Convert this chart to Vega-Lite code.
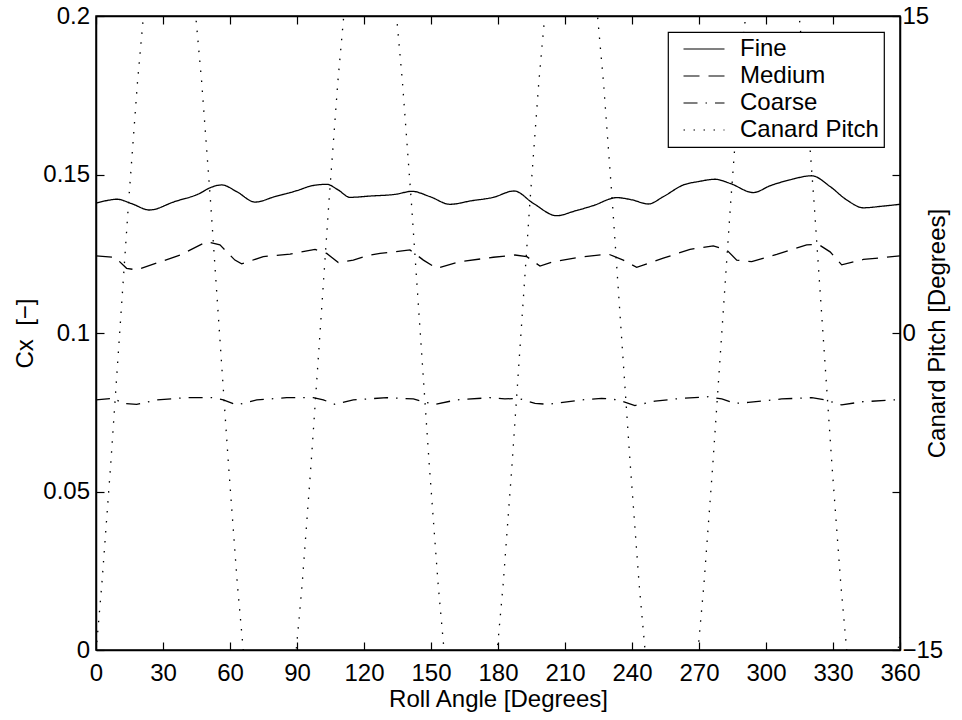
{
  "$schema": "https://vega.github.io/schema/vega-lite/v6.json",
  "width": 804,
  "height": 634,
  "autosize": {"type": "none"},
  "padding": {"left": 96, "top": 16, "right": 62, "bottom": 70},
  "background": "white",
  "config": {
    "font": "Liberation Sans",
    "view": {"stroke": "black", "strokeWidth": 1.5},
    "axis": {
      "grid": false,
      "domainColor": "black",
      "domainWidth": 1.5,
      "tickColor": "black",
      "tickWidth": 1.2,
      "tickSize": -8,
      "labelColor": "black",
      "labelFont": "Liberation Sans",
      "labelFontSize": 24,
      "titleFont": "Liberation Sans",
      "titleFontSize": 24,
      "titleFontWeight": "normal",
      "titleColor": "black"
    },
    "legend": {
      "orient": "top-right",
      "offset": 16,
      "padding": 5,
      "fillColor": "white",
      "strokeColor": "black",
      "strokeWidth": 1.2,
      "symbolType": "M-2,0H2",
      "symbolSize": 420,
      "symbolStrokeWidth": 1.2,
      "symbolStrokeColor": "black",
      "symbolFillColor": "transparent",
      "labelFont": "Liberation Sans",
      "labelFontSize": 24,
      "labelColor": "black",
      "labelOffset": 24,
      "labelLimit": 400,
      "rowPadding": 3,
      "symbolOffset": 19
    }
  },
  "data": {
    "values": [
      {"series": "Fine", "angle": 0, "value": 0.1410},
      {"series": "Fine", "angle": 5, "value": 0.1418},
      {"series": "Fine", "angle": 9.3, "value": 0.1422},
      {"series": "Fine", "angle": 16, "value": 0.1408},
      {"series": "Fine", "angle": 23.9, "value": 0.1388},
      {"series": "Fine", "angle": 35, "value": 0.1414},
      {"series": "Fine", "angle": 46.6, "value": 0.1441},
      {"series": "Fine", "angle": 51, "value": 0.1458},
      {"series": "Fine", "angle": 56.3, "value": 0.1467},
      {"series": "Fine", "angle": 63, "value": 0.1446},
      {"series": "Fine", "angle": 71.2, "value": 0.1413},
      {"series": "Fine", "angle": 80, "value": 0.1430},
      {"series": "Fine", "angle": 89.9, "value": 0.1449},
      {"series": "Fine", "angle": 97, "value": 0.1465},
      {"series": "Fine", "angle": 103.3, "value": 0.1469},
      {"series": "Fine", "angle": 108.5, "value": 0.1451},
      {"series": "Fine", "angle": 113.7, "value": 0.1428},
      {"series": "Fine", "angle": 122.7, "value": 0.1432},
      {"series": "Fine", "angle": 134.6, "value": 0.1438},
      {"series": "Fine", "angle": 141.4, "value": 0.1447},
      {"series": "Fine", "angle": 149.6, "value": 0.1430},
      {"series": "Fine", "angle": 158.5, "value": 0.1406},
      {"series": "Fine", "angle": 168, "value": 0.1417},
      {"series": "Fine", "angle": 177.9, "value": 0.1428},
      {"series": "Fine", "angle": 187.2, "value": 0.1448},
      {"series": "Fine", "angle": 195.8, "value": 0.1409},
      {"series": "Fine", "angle": 206.3, "value": 0.1370},
      {"series": "Fine", "angle": 214, "value": 0.1384},
      {"series": "Fine", "angle": 222.7, "value": 0.1402},
      {"series": "Fine", "angle": 233.2, "value": 0.1427},
      {"series": "Fine", "angle": 240, "value": 0.1420},
      {"series": "Fine", "angle": 247.3, "value": 0.1407},
      {"series": "Fine", "angle": 254, "value": 0.1430},
      {"series": "Fine", "angle": 263, "value": 0.1467},
      {"series": "Fine", "angle": 270, "value": 0.1478},
      {"series": "Fine", "angle": 277.2, "value": 0.1485},
      {"series": "Fine", "angle": 283.9, "value": 0.1472},
      {"series": "Fine", "angle": 294.3, "value": 0.1443},
      {"series": "Fine", "angle": 302, "value": 0.1465},
      {"series": "Fine", "angle": 310.7, "value": 0.1483},
      {"series": "Fine", "angle": 320.5, "value": 0.1496},
      {"series": "Fine", "angle": 328.7, "value": 0.1462},
      {"series": "Fine", "angle": 336.1, "value": 0.1420},
      {"series": "Fine", "angle": 343.6, "value": 0.1395},
      {"series": "Fine", "angle": 352, "value": 0.1400},
      {"series": "Fine", "angle": 360, "value": 0.1406},

      {"series": "Medium", "angle": 0, "value": 0.1243},
      {"series": "Medium", "angle": 8.5, "value": 0.1239},
      {"series": "Medium", "angle": 13.7, "value": 0.1204},
      {"series": "Medium", "angle": 18.2, "value": 0.1199},
      {"series": "Medium", "angle": 25.7, "value": 0.1217},
      {"series": "Medium", "angle": 37.6, "value": 0.1246},
      {"series": "Medium", "angle": 49.6, "value": 0.1288},
      {"series": "Medium", "angle": 55.5, "value": 0.1278},
      {"series": "Medium", "angle": 62.2, "value": 0.1230},
      {"series": "Medium", "angle": 65.2, "value": 0.1218},
      {"series": "Medium", "angle": 74.9, "value": 0.1241},
      {"series": "Medium", "angle": 86.9, "value": 0.1249},
      {"series": "Medium", "angle": 98.1, "value": 0.1264},
      {"series": "Medium", "angle": 103.3, "value": 0.1251},
      {"series": "Medium", "angle": 108.5, "value": 0.1222},
      {"series": "Medium", "angle": 115.2, "value": 0.1230},
      {"series": "Medium", "angle": 122.7, "value": 0.1246},
      {"series": "Medium", "angle": 127.2, "value": 0.1251},
      {"series": "Medium", "angle": 140.6, "value": 0.1262},
      {"series": "Medium", "angle": 146.6, "value": 0.1230},
      {"series": "Medium", "angle": 152.5, "value": 0.1204},
      {"series": "Medium", "angle": 163, "value": 0.1225},
      {"series": "Medium", "angle": 177.9, "value": 0.1239},
      {"series": "Medium", "angle": 187.6, "value": 0.1246},
      {"series": "Medium", "angle": 192.9, "value": 0.1241},
      {"series": "Medium", "angle": 198.8, "value": 0.1211},
      {"series": "Medium", "angle": 204.8, "value": 0.1225},
      {"series": "Medium", "angle": 216.7, "value": 0.1239},
      {"series": "Medium", "angle": 229.4, "value": 0.1249},
      {"series": "Medium", "angle": 236.1, "value": 0.1230},
      {"series": "Medium", "angle": 242.1, "value": 0.1207},
      {"series": "Medium", "angle": 254, "value": 0.1236},
      {"series": "Medium", "angle": 266, "value": 0.1264},
      {"series": "Medium", "angle": 276.4, "value": 0.1275},
      {"series": "Medium", "angle": 282.4, "value": 0.1262},
      {"series": "Medium", "angle": 286.9, "value": 0.1230},
      {"series": "Medium", "angle": 293.6, "value": 0.1225},
      {"series": "Medium", "angle": 304.8, "value": 0.1248},
      {"series": "Medium", "angle": 318.2, "value": 0.1278},
      {"series": "Medium", "angle": 323.4, "value": 0.1280},
      {"series": "Medium", "angle": 328.7, "value": 0.1256},
      {"series": "Medium", "angle": 333.9, "value": 0.1215},
      {"series": "Medium", "angle": 343.6, "value": 0.1232},
      {"series": "Medium", "angle": 360, "value": 0.1243},

      {"series": "Coarse", "angle": 0, "value": 0.0789},
      {"series": "Coarse", "angle": 7.7, "value": 0.0794},
      {"series": "Coarse", "angle": 12.2, "value": 0.0778},
      {"series": "Coarse", "angle": 18.2, "value": 0.0775},
      {"series": "Coarse", "angle": 27.2, "value": 0.0789},
      {"series": "Coarse", "angle": 40.6, "value": 0.0796},
      {"series": "Coarse", "angle": 52.5, "value": 0.0796},
      {"series": "Coarse", "angle": 57, "value": 0.0789},
      {"series": "Coarse", "angle": 63, "value": 0.0773},
      {"series": "Coarse", "angle": 72, "value": 0.0789},
      {"series": "Coarse", "angle": 85.4, "value": 0.0796},
      {"series": "Coarse", "angle": 97.3, "value": 0.0796},
      {"series": "Coarse", "angle": 101.8, "value": 0.0789},
      {"series": "Coarse", "angle": 107, "value": 0.0775},
      {"series": "Coarse", "angle": 115.2, "value": 0.0789},
      {"series": "Coarse", "angle": 130.2, "value": 0.0796},
      {"series": "Coarse", "angle": 142.1, "value": 0.0792},
      {"series": "Coarse", "angle": 146.6, "value": 0.0783},
      {"series": "Coarse", "angle": 151.8, "value": 0.0775},
      {"series": "Coarse", "angle": 161.5, "value": 0.0789},
      {"series": "Coarse", "angle": 176.4, "value": 0.0796},
      {"series": "Coarse", "angle": 183.1, "value": 0.0792},
      {"series": "Coarse", "angle": 189.1, "value": 0.0794},
      {"series": "Coarse", "angle": 196.6, "value": 0.0778},
      {"series": "Coarse", "angle": 202.5, "value": 0.0775},
      {"series": "Coarse", "angle": 217.5, "value": 0.0789},
      {"series": "Coarse", "angle": 226.4, "value": 0.0794},
      {"series": "Coarse", "angle": 233.9, "value": 0.0789},
      {"series": "Coarse", "angle": 241.3, "value": 0.0771},
      {"series": "Coarse", "angle": 250.3, "value": 0.0785},
      {"series": "Coarse", "angle": 262.3, "value": 0.0794},
      {"series": "Coarse", "angle": 274.2, "value": 0.0799},
      {"series": "Coarse", "angle": 280.2, "value": 0.0792},
      {"series": "Coarse", "angle": 286.1, "value": 0.0778},
      {"series": "Coarse", "angle": 292.1, "value": 0.0781},
      {"series": "Coarse", "angle": 307, "value": 0.0792},
      {"series": "Coarse", "angle": 320.5, "value": 0.0796},
      {"series": "Coarse", "angle": 326.4, "value": 0.0789},
      {"series": "Coarse", "angle": 333.9, "value": 0.0773},
      {"series": "Coarse", "angle": 342.9, "value": 0.0783},
      {"series": "Coarse", "angle": 357.7, "value": 0.0789},
      {"series": "Coarse", "angle": 360, "value": 0.0789},

      {"series": "Canard Pitch", "angle": 0, "value": -15.1},
      {"series": "Canard Pitch", "angle": 2.6, "value": -11.9},
      {"series": "Canard Pitch", "angle": 6.6, "value": -6.2},
      {"series": "Canard Pitch", "angle": 10.6, "value": 0},
      {"series": "Canard Pitch", "angle": 14.6, "value": 6.2},
      {"series": "Canard Pitch", "angle": 18.6, "value": 11.9},
      {"series": "Canard Pitch", "angle": 22.6, "value": 16.6},
      {"series": "Canard Pitch", "angle": 33, "value": 22.4},
      {"series": "Canard Pitch", "angle": 43.3, "value": 16.6},
      {"series": "Canard Pitch", "angle": 47.3, "value": 11.9},
      {"series": "Canard Pitch", "angle": 51.3, "value": 6.2},
      {"series": "Canard Pitch", "angle": 55.3, "value": 0},
      {"series": "Canard Pitch", "angle": 59.3, "value": -6.2},
      {"series": "Canard Pitch", "angle": 63.3, "value": -11.9},
      {"series": "Canard Pitch", "angle": 67.3, "value": -16.6},
      {"series": "Canard Pitch", "angle": 77.8, "value": -22.4},
      {"series": "Canard Pitch", "angle": 88.3, "value": -16.6},
      {"series": "Canard Pitch", "angle": 92.3, "value": -11.9},
      {"series": "Canard Pitch", "angle": 96.3, "value": -6.2},
      {"series": "Canard Pitch", "angle": 100.3, "value": 0},
      {"series": "Canard Pitch", "angle": 104.3, "value": 6.2},
      {"series": "Canard Pitch", "angle": 108.3, "value": 11.9},
      {"series": "Canard Pitch", "angle": 112.3, "value": 16.6},
      {"series": "Canard Pitch", "angle": 122.8, "value": 22.4},
      {"series": "Canard Pitch", "angle": 133.2, "value": 16.6},
      {"series": "Canard Pitch", "angle": 137.2, "value": 11.9},
      {"series": "Canard Pitch", "angle": 141.2, "value": 6.2},
      {"series": "Canard Pitch", "angle": 145.2, "value": 0},
      {"series": "Canard Pitch", "angle": 149.2, "value": -6.2},
      {"series": "Canard Pitch", "angle": 153.2, "value": -11.9},
      {"series": "Canard Pitch", "angle": 157.2, "value": -16.6},
      {"series": "Canard Pitch", "angle": 167.7, "value": -22.4},
      {"series": "Canard Pitch", "angle": 178.3, "value": -16.6},
      {"series": "Canard Pitch", "angle": 182.3, "value": -11.9},
      {"series": "Canard Pitch", "angle": 186.3, "value": -6.2},
      {"series": "Canard Pitch", "angle": 190.3, "value": 0},
      {"series": "Canard Pitch", "angle": 194.3, "value": 6.2},
      {"series": "Canard Pitch", "angle": 198.3, "value": 11.9},
      {"series": "Canard Pitch", "angle": 202.3, "value": 16.6},
      {"series": "Canard Pitch", "angle": 212.7, "value": 22.4},
      {"series": "Canard Pitch", "angle": 223.2, "value": 16.6},
      {"series": "Canard Pitch", "angle": 227.2, "value": 11.9},
      {"series": "Canard Pitch", "angle": 231.2, "value": 6.2},
      {"series": "Canard Pitch", "angle": 235.2, "value": 0},
      {"series": "Canard Pitch", "angle": 239.2, "value": -6.2},
      {"series": "Canard Pitch", "angle": 243.2, "value": -11.9},
      {"series": "Canard Pitch", "angle": 247.2, "value": -16.6},
      {"series": "Canard Pitch", "angle": 257.7, "value": -22.4},
      {"series": "Canard Pitch", "angle": 268.2, "value": -16.6},
      {"series": "Canard Pitch", "angle": 272.2, "value": -11.9},
      {"series": "Canard Pitch", "angle": 276.2, "value": -6.2},
      {"series": "Canard Pitch", "angle": 280.2, "value": 0},
      {"series": "Canard Pitch", "angle": 284.2, "value": 6.2},
      {"series": "Canard Pitch", "angle": 288.2, "value": 11.9},
      {"series": "Canard Pitch", "angle": 292.2, "value": 16.6},
      {"series": "Canard Pitch", "angle": 302.8, "value": 22.4},
      {"series": "Canard Pitch", "angle": 313.5, "value": 16.6},
      {"series": "Canard Pitch", "angle": 317.5, "value": 11.9},
      {"series": "Canard Pitch", "angle": 321.5, "value": 6.2},
      {"series": "Canard Pitch", "angle": 325.5, "value": 0},
      {"series": "Canard Pitch", "angle": 329.5, "value": -6.2},
      {"series": "Canard Pitch", "angle": 333.5, "value": -11.9},
      {"series": "Canard Pitch", "angle": 337.5, "value": -16.6},
      {"series": "Canard Pitch", "angle": 347.6, "value": -22.4},
      {"series": "Canard Pitch", "angle": 360, "value": -14.4}
    ]
  },
  "layer": [
    {
      "transform": [{"filter": "datum.series === 'Canard Pitch'"}],
      "mark": {"type": "line", "clip": true, "color": "black", "strokeWidth": 1.3},
      "encoding": {
        "x": {
          "field": "angle", "type": "quantitative",
          "scale": {"domain": [0, 360], "nice": false},
          "axis": {"orient": "top", "values": [0, 30, 60, 90, 120, 150, 180, 210, 240, 270, 300, 330, 360], "labels": false, "title": null}
        },
        "y": {
          "field": "value", "type": "quantitative",
          "scale": {"domain": [-15, 15], "nice": false, "zero": false},
          "axis": {
            "orient": "right",
            "values": [-15, -7.5, 0, 7.5, 15],
            "format": "~g",
            "labelExpr": "abs(datum.value) == 7.5 ? '' : datum.label",
            "labelPadding": 10,
            "title": "Canard Pitch [Degrees]",
            "titleAngle": 270,
            "titleX": 44,
            "titleY": 317,
            "titleAlign": "center",
            "titleBaseline": "alphabetic"
          }
        },
        "strokeDash": {
          "field": "series", "type": "nominal",
          "scale": {"domain": ["Fine", "Medium", "Coarse", "Canard Pitch"], "range": [[1, 0], [16, 9], [14, 8, 1.5, 8], [1.5, 8.5]]},
          "legend": {"title": null}
        },
        "detail": {"field": "series"}
      }
    },
    {
      "transform": [{"filter": "datum.series === 'Fine'"}],
      "mark": {"type": "line", "clip": true, "color": "black", "strokeWidth": 1.3, "interpolate": "monotone"},
      "encoding": {
        "x": {
          "field": "angle", "type": "quantitative",
          "scale": {"domain": [0, 360], "nice": false},
          "axis": {
            "orient": "bottom",
            "values": [0, 30, 60, 90, 120, 150, 180, 210, 240, 270, 300, 330, 360],
            "labelFlush": false,
            "labelPadding": 19,
            "title": "Roll Angle [Degrees]",
            "titleX": 402,
            "titleY": 56,
            "titleAlign": "center",
            "titleBaseline": "alphabetic"
          }
        },
        "y": {
          "field": "value", "type": "quantitative",
          "scale": {"domain": [0, 0.2], "nice": false},
          "axis": {
            "orient": "left",
            "values": [0, 0.05, 0.1, 0.15, 0.2],
            "format": "~g",
            "labelPadding": 14.5,
            "title": "Cx\u00a0\u00a0[−]",
            "titleAngle": 270,
            "titleX": -64,
            "titleY": 317,
            "titleAlign": "center",
            "titleBaseline": "alphabetic"
          }
        },
        "strokeDash": {
          "field": "series", "type": "nominal",
          "scale": {"domain": ["Fine", "Medium", "Coarse", "Canard Pitch"], "range": [[1, 0], [16, 9], [14, 8, 1.5, 8], [1.5, 8.5]]},
          "legend": {"title": null}
        },
        "detail": {"field": "series"}
      }
    },
    {
      "transform": [{"filter": "datum.series === 'Medium' || datum.series === 'Coarse'"}],
      "mark": {"type": "line", "clip": true, "color": "black", "strokeWidth": 1.3},
      "encoding": {
        "x": {
          "field": "angle", "type": "quantitative",
          "scale": {"domain": [0, 360], "nice": false},
          "axis": null
        },
        "y": {
          "field": "value", "type": "quantitative",
          "scale": {"domain": [0, 0.2], "nice": false},
          "axis": null
        },
        "strokeDash": {
          "field": "series", "type": "nominal",
          "scale": {"domain": ["Fine", "Medium", "Coarse", "Canard Pitch"], "range": [[1, 0], [16, 9], [14, 8, 1.5, 8], [1.5, 8.5]]},
          "legend": {"title": null}
        },
        "detail": {"field": "series"}
      }
    }
  ],
  "resolve": {
    "scale": {"y": "independent"},
    "axis": {"y": "independent", "x": "independent"}
  }
}
